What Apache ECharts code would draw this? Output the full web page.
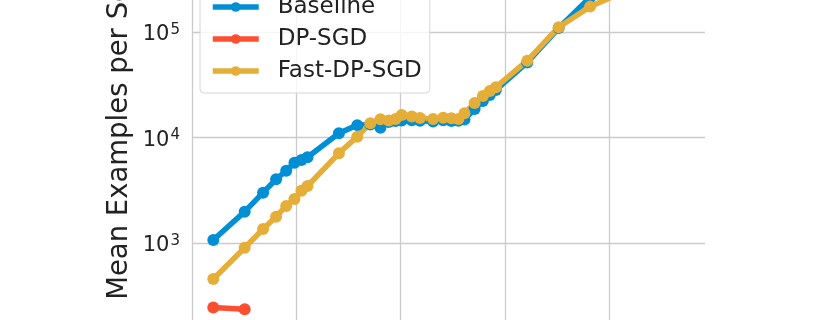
<!DOCTYPE html>
<html>
<head>
<meta charset="utf-8">
<script src="https://cdn.jsdelivr.net/npm/echarts@6/dist/echarts.min.js"></script>
<style>
html,body{margin:0;padding:0;background:#fff;}
#chart{width:813px;height:320px;}
</style>
</head>
<body>
<div id="chart"></div>
<script>
// Batch sizes (x, log scale)
const batchSizes = [16, 32, 48, 64, 80, 96, 112, 128, 256, 384, 512, 640, 768, 896, 1024, 1280, 1536, 2048, 2560, 3072, 3584, 4096, 5120, 6144, 7168, 8192, 16384, 32768, 65536, 131072];
// Mean examples per second
const baselineValues = [1067, 1982, 3000, 4018, 4845, 5768, 6120, 6490, 10970, 13100, 13300, 12400, 14000, 14300, 14500, 14600, 14400, 14200, 14600, 14300, 14400, 14800, 18600, 22200, 25300, 28200, 51400, 109000, 213000, 400000];
const dpsgdBatchSizes = [16, 32];
const dpsgdValues = [245, 235];
const fastValues = [456, 902, 1358, 1775, 2244, 2613, 3133, 3470, 7080, 10190, 13650, 14870, 14500, 15000, 16300, 15800, 15300, 15000, 15400, 15200, 15000, 17000, 21200, 24800, 27600, 30000, 53500, 111000, 174000, 236000];
const seriesNames = ['Baseline', 'DP-SGD', 'Fast-DP-SGD'];
const yLabel = 'Mean Examples per Second';

const colors = ['#008fd5', '#fc4f30', '#e5ae38'];
const font = 'DejaVu Sans';

function pairs(xs, ys) { return xs.map((x, i) => [x, ys[i]]); }

function logLabel(v) {
  const e = Math.round(Math.log10(v));
  return '{b|10}{s|' + e + '}';
}

const chart = echarts.init(document.getElementById('chart'), null, {renderer: 'canvas'});
const lineSeries = (name, data, color) => ({
  name, type: 'line', data,
  symbol: 'circle', symbolSize: 12,
  lineStyle: {width: 5.5, color},
  itemStyle: {color},
  emphasis: {disabled: true},
  animation: false
});

const labelRich = {
  b: {fontSize: 21, fontFamily: font, color: '#222', lineHeight: 24, padding: [6, 0, 0, 0]},
  s: {fontSize: 15, fontFamily: font, color: '#222', lineHeight: 24, padding: [0, 0, 4, 1]}
};

chart.setOption({
  backgroundColor: '#ffffff',
  animation: false,
  textStyle: {fontFamily: font},
  grid: {left: 192, width: 513, top: -73.5, height: 422, containLabel: false, outerBoundsMode: 'none'},
  xAxis: {
    type: 'log', logBase: 10, min: 10, max: 828000,
    axisLine: {show: false}, axisTick: {show: false},
    axisLabel: {show: true, formatter: logLabel, rich: labelRich},
    splitLine: {show: true, showMaxLine: false, lineStyle: {color: '#cbcbcb', width: 1.3}}
  },
  yAxis: {
    type: 'log', logBase: 10, min: 100, max: 1000000,
    axisLine: {show: false}, axisTick: {show: false},
    axisLabel: {margin: 12, formatter: logLabel, rich: labelRich},
    splitLine: {show: true, lineStyle: {color: '#cbcbcb', width: 1.3}}
  },
  legend: {
    orient: 'vertical', left: 200, top: -15,
    padding: [10, 8, 10, 10],
    itemWidth: 46, itemHeight: 12, itemGap: 8,
    lineStyle: {width: 5.5},
    backgroundColor: 'rgba(255,255,255,0.8)',
    borderColor: '#d6d6d6', borderWidth: 1, borderRadius: 4,
    textStyle: {fontFamily: font, fontSize: 23, color: '#222', lineHeight: 24, padding: [0, 0, 0, 14]},
    data: seriesNames,
    z: 10
  },
  graphic: [{
    type: 'text', x: 120, y: 109, rotation: Math.PI / 2,
    style: {text: yLabel, font: '27.5px "DejaVu Sans"', fill: '#222', align: 'center', verticalAlign: 'middle'}
  }],
  series: [
    lineSeries(seriesNames[0], pairs(batchSizes, baselineValues), colors[0]),
    lineSeries(seriesNames[1], pairs(dpsgdBatchSizes, dpsgdValues), colors[1]),
    lineSeries(seriesNames[2], pairs(batchSizes, fastValues), colors[2])
  ]
});
</script>
</body>
</html>
